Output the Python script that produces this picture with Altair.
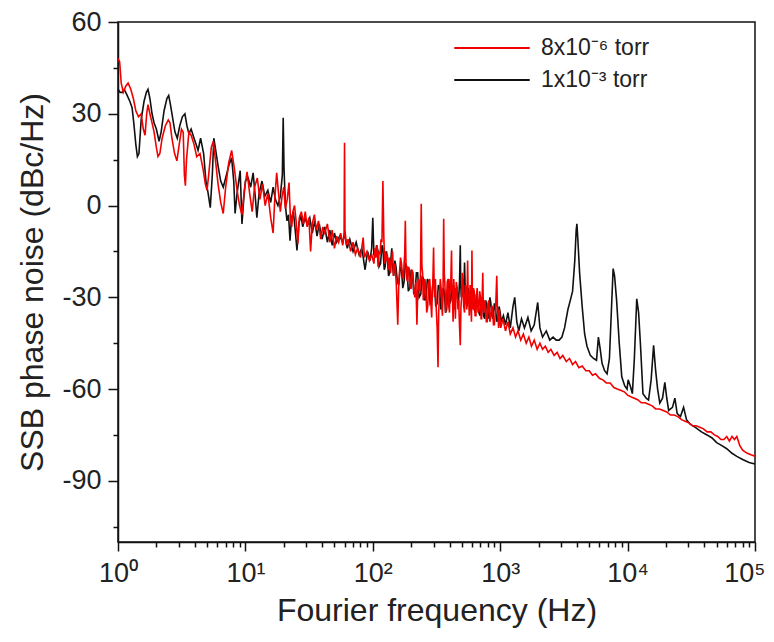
import altair as alt
import pandas as pd

RED_NAME = "8x10\u207b\u2076 torr"
BLACK_NAME = "1x10\u207b\u00b3 torr"

# (frequency Hz, SSB phase noise dBc/Hz), one list per decade
red_d1 = [(1.00, 48), (1.03, 47), (1.06, 40), (1.10, 37), (1.15, 39), (1.20, 40), (1.26, 38), (1.32, 35),
          (1.38, 31), (1.45, 29), (1.52, 30), (1.58, 25), (1.63, 23), (1.68, 30), (1.72, 33), (1.78, 30),
          (1.85, 27), (1.92, 24), (2.00, 19), (2.06, 16), (2.13, 17), (2.22, 22), (2.35, 26), (2.48, 28),
          (2.56, 27), (2.65, 22), (2.78, 17), (2.90, 14.6), (3.00, 19), (3.15, 25), (3.25, 24), (3.32, 10),
          (3.38, 6.5), (3.45, 15), (3.60, 24), (3.75, 23), (3.95, 20), (4.15, 16), (4.40, 17), (4.65, 12),
          (4.85, 7), (5.00, 5), (5.15, 10), (5.40, 19), (5.60, 21), (5.85, 14), (6.10, 7), (6.40, 1),
          (6.70, -2.6), (7.00, 6), (7.40, 14), (7.80, 18), (8.20, 12), (8.60, 5), (9.00, 0), (9.40, -3),
          (9.80, 5)]
red_d2 = [(10.3, 11), (10.8, 4), (11.3, -2), (11.8, 6), (12.4, 9), (13.0, 2), (13.6, 7), (14.3, 0), (15.0, 4),
          (15.8, -4), (16.5, -9), (17.0, 2), (17.6, 10.7), (18.2, 4), (18.8, -2), (19.4, 3), (20.0, 6),
          (20.6, -1), (21.3, 2), (22.0, 7.5), (22.5, -3), (23.1, -7), (23.6, -2), (24.3, 0), (25.0, -5),
          (25.8, -12.5), (26.5, -4), (27.5, -2), (28.5, -6), (29.5, -2), (30.5, -7), (31.5, -4), (32.5, -15),
          (33.5, -6), (34.8, -3), (36.0, -8), (37.5, -5), (39.0, -11), (40.5, -7), (42.0, -9), (44.0, -6),
          (46.0, -12), (48.0, -8), (50.0, -14), (52.0, -10), (54.0, -12), (56.0, -9), (58.0, -13), (59.5, -10),
          (60.0, 20.5), (60.5, -8), (62.0, -13), (64.0, -11), (67.0, -15), (70.0, -12), (73.0, -16), (76.0, -14),
          (80.0, -17), (84.0, -10.5), (86.0, -17), (90.0, -15), (94.0, -18), (98.0, -16)]
red_d3 = [(102, -19), (104, -14), (106, -17), (108, -13), (110, -20), (112, -15), (114, -16), (116, -11),
          (118, -12), (120, 8), (122, -10), (124, -19), (126, -15), (128, -18), (130, -16), (133, -21),
          (135, -17), (138, -22), (140, -18), (143, -15), (145, -23), (148, -19), (150, -20), (153, -26),
          (157, -39), (160, -25), (162, -22), (165, -17), (168, -19), (171, -23), (174, -24), (176, -19),
          (178, -16), (180, -5), (182, -18), (185, -24), (188, -25), (191, -20), (194, -21), (197, -27),
          (200, -27), (203, -21), (207, -22), (210, -28), (214, -30), (218, -25), (222, -39), (225, -29),
          (228, -24), (231, -27), (234, -28), (237, -21), (240, 0.6), (243, -20), (246, -22), (249, -31),
          (252, -30), (256, -24), (260, -26), (265, -35), (270, -33), (275, -25), (280, -24), (285, -31),
          (290, -36.6), (293, -28), (296, -25), (300, -13.7), (303, -26), (305, -30), (310, -24), (315, -34),
          (320, -40), (325, -52.9), (329, -35), (333, -30), (339, -24), (345, -28), (348, -33), (352, -36),
          (356, -27), (360, -4.3), (364, -22), (368, -26), (373, -35), (378, -32), (384, -25), (390, -24),
          (395, -33), (400, -35), (404, -27), (408, -28), (411, -22), (415, -14.7), (418, -26), (422, -30),
          (427, -38), (432, -24), (438, -29), (445, -37), (452, -25), (460, -27), (466, -34), (472, -31),
          (479, -39), (486, -45.7), (492, -33), (498, -30), (504, -22), (510, -24), (517, -33), (525, -35),
          (532, -26), (540, -27), (547, -34), (555, -18), (560, -29), (565, -30), (572, -36), (580, -26),
          (587, -31), (595, -38), (600, -14.7), (605, -30), (610, -34), (617, -27), (625, -28), (635, -36),
          (645, -36), (652, -29), (660, -27), (670, -35), (680, -34), (690, -28), (700, -30), (708, -37),
          (715, -37), (722, -30), (730, -22), (737, -33), (745, -35), (755, -31), (765, -32), (778, -38),
          (790, -38), (802, -32), (815, -31), (828, -38), (840, -37), (855, -33), (870, -33), (885, -39),
          (900, -39), (920, -34), (940, -23), (950, -33), (960, -36), (972, -40), (985, -34), (998, -38)]
red_d4 = [(1010, -40), (1050, -37), (1100, -41), (1150, -38), (1200, -42), (1260, -40), (1320, -43),
          (1380, -41), (1450, -44), (1520, -42), (1600, -45), (1680, -43), (1760, -46), (1850, -44),
          (1950, -47), (2050, -45), (2150, -47), (2260, -46), (2380, -48), (2500, -47), (2650, -49),
          (2800, -48), (2950, -50), (3100, -49), (3300, -51), (3500, -50), (3700, -52), (3900, -51),
          (4150, -53), (4400, -52.5), (4700, -54), (5000, -54), (5300, -55.5), (5600, -55), (6000, -56.5),
          (6400, -57), (6800, -58), (7300, -58), (7800, -59.5), (8300, -60), (8900, -60.5), (9500, -61)]
red_d5 = [(10000, -62), (10600, -62.5), (11300, -63), (12000, -63.5), (12800, -64.5), (13700, -64.5),
          (14600, -65), (15600, -65.5), (16600, -66.5), (17800, -66.5), (19000, -67), (20300, -67.5),
          (21700, -68.5), (23200, -68.5), (24800, -69), (26500, -70), (28300, -70.5), (30200, -71),
          (32300, -72), (34500, -72), (36900, -72.5), (39400, -73), (42100, -74), (45000, -74), (48000, -75),
          (51000, -75.5), (54000, -76.5), (57000, -76.5), (60000, -75.5), (63000, -77), (66000, -75.5),
          (69000, -76.5), (72000, -75.5), (76000, -78.5), (80000, -80), (87000, -81), (93000, -81.5),
          (100000, -82)]

black_d1 = [(1.00, 38), (1.04, 37), (1.08, 37), (1.12, 38), (1.18, 36), (1.24, 34), (1.29, 32), (1.33, 27),
            (1.38, 20), (1.42, 16), (1.46, 17), (1.52, 28), (1.60, 34), (1.67, 37), (1.72, 38), (1.78, 35),
            (1.85, 30), (1.92, 27), (2.00, 25), (2.10, 21), (2.18, 24), (2.30, 31), (2.42, 35), (2.50, 36),
            (2.58, 33), (2.70, 28), (2.80, 24), (2.92, 22), (3.05, 26), (3.20, 29), (3.35, 30), (3.48, 26),
            (3.60, 23.5), (3.75, 25), (3.95, 22), (4.10, 20), (4.25, 18), (4.45, 22), (4.70, 17), (4.90, 8),
            (5.10, 4), (5.30, -0.7), (5.50, 10), (5.65, 22), (5.85, 18), (6.10, 13), (6.40, 8), (6.70, 6),
            (7.00, 9), (7.40, 13), (7.80, 15.6), (8.10, 8), (8.30, -2.6), (8.60, 4), (9.10, 11.4), (9.40, -6),
            (9.70, 2)]
black_d2 = [(10.0, 8), (10.5, 9), (11.0, 6), (11.5, 10.7), (12.0, 2), (12.3, -4), (12.8, 4), (13.5, 8),
            (14.2, 3), (15.0, 5), (15.8, 1), (16.5, 6), (17.2, 2), (18.0, 0), (18.8, 3), (19.5, 10),
            (19.8, 28.7), (20.1, 12), (20.6, 0), (21.2, -5), (21.8, -3), (22.4, -11.5), (23.0, -4), (23.8, -2),
            (24.6, -8), (25.4, -14.7), (26.3, -6), (27.2, -3), (28.2, -7), (29.3, -4), (30.5, -6), (32.0, -4),
            (33.5, -9), (35.0, -5), (36.5, -10), (38.0, -6), (40.0, -11), (42.0, -7), (44.0, -12), (46.0, -8),
            (48.0, -13), (50.0, -9), (52.0, -12), (55.0, -10), (58.0, -12), (60.0, -9), (63.0, -14),
            (66.0, -11), (70.0, -15), (74.0, -12), (78.0, -16), (82.0, -14), (87.0, -21), (91.0, -15),
            (95.0, -18), (98.0, -14)]
black_d3 = [(100, -4), (102, -16), (104, -17), (107, -13), (110, -15), (112, -20), (115, -19), (118, -13),
            (120, -14), (123, -21), (125, -20), (128, -15), (130, -17), (133, -23), (136, -22), (139, -17),
            (141, -14), (143, -20), (146, -23), (149, -18), (152, -20), (156, -25), (160, -26), (164, -20),
            (168, -21), (172, -27), (176, -25), (180, -19), (185, -20), (190, -28), (195, -27), (200, -21),
            (205, -23), (210, -29), (215, -28), (220, -22), (225, -22), (231, -30), (238, -29), (244, -23),
            (250, -24), (256, -31), (262, -30), (268, -24), (275, -25), (282, -32), (290, -31), (297, -25),
            (305, -26), (312, -33), (320, -32), (327, -26), (335, -27), (342, -34), (350, -33), (357, -27),
            (365, -28), (372, -35), (380, -34), (387, -28), (395, -24), (402, -32), (410, -31), (417, -26),
            (425, -27), (432, -34), (440, -33), (450, -27), (460, -28), (470, -33), (480, -24), (486, -13),
            (490, -26), (495, -30), (502, -29), (510, -24), (517, -30), (525, -18.6), (532, -28), (540, -32),
            (550, -33), (560, -27), (570, -29), (580, -33), (590, -34), (600, -28), (612, -30), (625, -34),
            (637, -35), (650, -29), (665, -31), (680, -35), (695, -36), (710, -30), (725, -32), (740, -36),
            (755, -37), (770, -31), (785, -33), (800, -37), (815, -36), (830, -30), (845, -32), (860, -36),
            (880, -37), (900, -32), (920, -34), (940, -38), (960, -37), (980, -33), (1000, -35)]
black_d4 = [(1020, -38), (1060, -36), (1100, -39), (1150, -35), (1200, -40), (1260, -33), (1300, -30),
            (1350, -38), (1400, -41), (1470, -37), (1550, -40), (1650, -36.6), (1750, -41), (1850, -39),
            (1970, -31.7), (2050, -40), (2150, -43), (2300, -41), (2450, -44), (2600, -43), (2750, -44),
            (2900, -44), (3050, -43), (3200, -40), (3400, -34), (3550, -31), (3700, -28), (3850, -18),
            (3950, -8), (4000, -6), (4080, -12), (4200, -22), (4400, -33), (4600, -42), (4800, -46),
            (5100, -49), (5400, -50), (5700, -50.6), (5900, -43), (6100, -47), (6300, -51.6), (6600, -54),
            (6900, -55), (7200, -50), (7500, -32), (7700, -20.6), (7900, -23), (8200, -31), (8600, -45),
            (9000, -56), (9500, -59), (9900, -60)]
black_d5 = [(10100, -57), (10500, -59), (10900, -61.5), (11300, -50), (11800, -30.5), (12200, -35),
            (12600, -45), (13200, -61.5), (14000, -63), (14600, -63.6), (15300, -57), (16000, -45.7),
            (16600, -54), (17200, -60), (17900, -64.6), (18800, -63), (19600, -57.8), (20300, -63), (21000, -67),
            (22500, -66), (23500, -63), (24500, -68), (26000, -69), (27500, -66), (29000, -70), (31000, -71.5),
            (34000, -72.5), (38000, -74), (42000, -75), (46000, -76), (50000, -77.5), (55000, -78.5),
            (60000, -79.5), (66000, -81), (72000, -82), (80000, -83), (90000, -84), (100000, -84.5)]

red_pts = red_d1 + red_d2 + red_d3 + red_d4 + red_d5
black_pts = black_d1 + black_d2 + black_d3 + black_d4 + black_d5

black_df = pd.DataFrame(black_pts, columns=["freq", "noise"]).assign(series=BLACK_NAME)
red_df = pd.DataFrame(red_pts, columns=["freq", "noise"]).assign(series=RED_NAME)

x_ticks = [m * 10 ** d for d in range(5) for m in range(1, 10)] + [100000]
y_ticks = [-105, -90, -75, -60, -45, -30, -15, 0, 15, 30, 45, 60]

color_scale = alt.Scale(domain=[RED_NAME, BLACK_NAME], range=["#f20000", "#111111"])

is_decade = "abs(log(datum.value)/LN10 - round(log(datum.value)/LN10)) < 0.001"
is_last = "datum.value >= 99999"

x_enc = alt.X(
    "freq:Q",
    scale=alt.Scale(type="log", domain=[1, 100000], nice=False),
    axis=alt.Axis(
        title="Fourier frequency (Hz)",
        values=x_ticks,
        labelExpr=is_decade + " ? '10' + ['\u2070','\u00b9','\u00b2','\u00b3','\u2074','\u2075'][round(log(datum.value)/LN10)] : ''",
        tickSize={"condition": {"test": is_decade, "value": 9}, "value": 5},
        labelAlign={"condition": {"test": is_last, "value": "right"}, "value": "center"},
        labelOffset={"condition": {"test": is_last, "value": 10}, "value": 0},
        labelOverlap=False,
        labelFlush=False,
        labelBound=False,
        labelPadding=9,
        titlePadding=9,
        labelFontSize=27,
        titleFontSize=32,
        grid=False,
    ),
)
y_enc = alt.Y(
    "noise:Q",
    scale=alt.Scale(domain=[-110, 60], nice=False, zero=False),
    axis=alt.Axis(
        title="SSB phase noise (dBc/Hz)",
        values=y_ticks,
        labelExpr="datum.value % 30 == 0 ? toString(datum.value) : ''",
        tickSize={"condition": {"test": "datum.value % 30 == 0", "value": 10}, "value": 5},
        labelOverlap=False,
        labelPadding=7,
        titlePadding=12,
        labelFontSize=27,
        titleFontSize=32,
        grid=False,
    ),
)

legend = alt.Legend(
    title=None,
    orient="none",
    legendX=335,
    legendY=11,
    symbolType="stroke",
    symbolSize=5700,
    symbolStrokeWidth=2,
    clipHeight=30,
    labelFontSize=23,
    labelFont="Liberation Sans",
    labelColor="#222222",
    labelOffset=10,
    padding=0,
)

black_layer = alt.Chart(black_df).mark_line(strokeWidth=1.6).encode(
    x=x_enc, y=y_enc,
    color=alt.Color("series:N", scale=color_scale, legend=legend),
)
red_layer = alt.Chart(red_df).mark_line(strokeWidth=1.6).encode(
    x=x_enc, y=y_enc,
    color=alt.Color("series:N", scale=color_scale, legend=legend),
)

chart = alt.layer(black_layer, red_layer).properties(
    width=637,
    height=520,
    autosize=alt.AutoSizeParams(type="none"),
    padding={"left": 110, "top": 14, "right": 11, "bottom": 91},
).configure_view(
    stroke="#111111", strokeWidth=1.5
).configure_axis(
    domainColor="#111111", domainWidth=1.5, tickColor="#111111", tickWidth=1.5,
    labelFont="Liberation Sans", titleFont="Liberation Sans",
    labelColor="#222222", titleColor="#222222",
    titleFontWeight="normal",
)

chart.save("out.html", embed_options={"renderer": "svg", "actions": False})
